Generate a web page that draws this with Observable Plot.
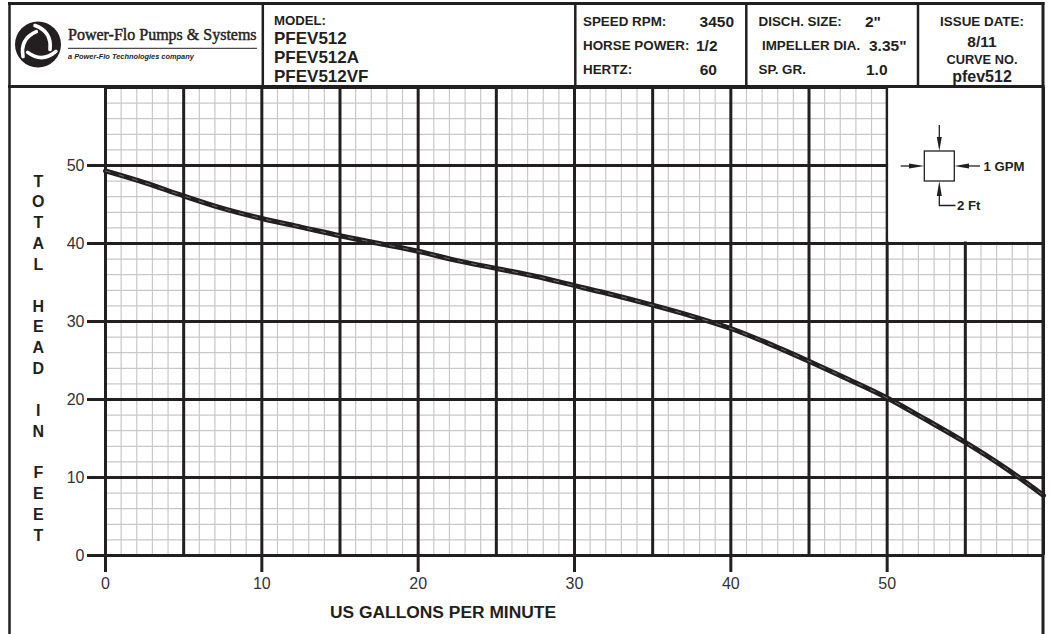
<!DOCTYPE html>
<html>
<head>
<meta charset="utf-8">
<script src="https://cdn.jsdelivr.net/npm/d3@7"></script>
<script src="https://cdn.jsdelivr.net/npm/@observablehq/plot@0.6"></script>
<style>
  body { margin: 0; background: #fff; }
  #page { position: relative; width: 1050px; height: 634px; overflow: hidden; }
</style>
</head>
<body>
<div id="page"></div>
<script>
// ---- data ----
const gpm  = [0, 2.5, 5, 7.5, 10, 12.5, 15, 17.5, 20, 22.5, 25, 27.5, 30, 32.5, 35, 37.5, 40, 42.5, 45, 47.5, 50, 52.5, 55, 57.5, 60];
const head = [49.3, 47.8, 46.1, 44.5, 43.2, 42.1, 41.0, 40.0, 39.0, 37.8, 36.8, 35.8, 34.6, 33.4, 32.1, 30.7, 29.1, 27.1, 24.9, 22.6, 20.2, 17.4, 14.5, 11.3, 7.7];
const xTicks = [0, 10, 20, 30, 40, 50];
const yTicks = [0, 10, 20, 30, 40, 50];
const xDomain = [0, 60];
const yDomain = [0, 60];
const xMinorStep = 1, yMinorStep = 2, xMajorStep = 5, yMajorStep = 10;
const legendBox = [{x1: 50, x2: 60, y1: 40, y2: 60}];
const xLabel = "US GALLONS PER MINUTE";
const yLabelLetters = ["T","O","T","A","L","","H","E","A","D","","I","N","","F","E","E","T"];
const modelLines = ["PFEV512", "PFEV512A", "PFEV512VF"];
const specLabels = ["SPEED RPM:", "HORSE POWER:", "HERTZ:"];
const specValues = ["3450", "1/2", "60"];
const dischLabels = ["DISCH. SIZE:", "IMPELLER DIA.", "SP. GR."];
const dischValues = ["2\"", "3.35\"", "1.0"];
const issueLines = ["ISSUE DATE:", "8/11", "CURVE NO.", "pfev512"];

const ink = "#231f20";
const curve = gpm.map((g, i) => ({gpm: g, head: head[i]}));
const xMinor = d3.range(xDomain[0], xDomain[1] + 0.001, xMinorStep);
const yMinor = d3.range(yDomain[0], yDomain[1] + 0.001, yMinorStep);
const xMajor = d3.range(xDomain[0], xDomain[1] + 0.001, xMajorStep);
const yMajor = d3.range(yDomain[0], yDomain[1] + 0.001, yMajorStep);

const chart = Plot.plot({
  width: 1050, height: 634,
  marginLeft: 105, marginRight: 7, marginTop: 87, marginBottom: 79,
  x: {domain: xDomain},
  y: {domain: yDomain},
  style: {fontFamily: "'Liberation Sans', Arial, sans-serif", fontSize: "16px", color: ink, background: "#fff"},
  marks: [
    Plot.ruleX(xMinor, {stroke: "#c8c8cc", strokeWidth: 1.2}),
    Plot.ruleY(yMinor, {stroke: "#c8c8cc", strokeWidth: 1.2}),
    Plot.ruleX(xMajor, {stroke: ink, strokeWidth: 3}),
    Plot.ruleY(yMajor, {stroke: ink, strokeWidth: 3}),
    Plot.rect(legendBox, {x1: "x1", x2: "x2", y1: "y1", y2: "y2", fill: "#fff", insetLeft: 1.5, insetBottom: 1.5}),
    Plot.axisX(xTicks, {tickSize: 17, tickPadding: 5, stroke: ink, strokeWidth: 3, fill: "#333", fontSize: 16, label: null}),
    Plot.axisY(yTicks, {tickSize: 18, tickPadding: 3, stroke: ink, strokeWidth: 3, fill: "#333", fontSize: 16, label: null}),
    Plot.line(curve, {x: "gpm", y: "head", stroke: ink, strokeWidth: 5, curve: "monotone-x"}),
    Plot.line(curve, {x: "gpm", y: "head", stroke: "#8a8a8a", strokeWidth: 0.7, strokeDasharray: "5 9", curve: "monotone-x"})
  ]
});
document.getElementById("page").appendChild(chart);

// ---- decorations: header block, frame, labels, legend glyph ----
const svg = d3.select(chart);
const g = svg.append("g").attr("class", "decor");
const sans = "'Liberation Sans', Arial, sans-serif";

function line(x1, y1, x2, y2, w) {
  g.append("line").attr("x1", x1).attr("y1", y1).attr("x2", x2).attr("y2", y2)
    .attr("stroke", ink).attr("stroke-width", w);
}
function text(str, x, y, size, opts = {}) {
  return g.append("text").attr("x", x).attr("y", y).text(str)
    .attr("font-family", opts.family || sans)
    .attr("font-size", size)
    .attr("font-weight", opts.weight || "bold")
    .attr("font-style", opts.style || "normal")
    .attr("text-anchor", opts.anchor || "start")
    .attr("fill", ink);
}

// header white background
g.append("rect").attr("x", 9).attr("y", 3).attr("width", 1034).attr("height", 84).attr("fill", "#fff");
// frame and header box lines
line(8, 3.5, 1044.5, 3.5, 3);
line(9.5, 2, 9.5, 634, 2.5);
line(1043, 2, 1043, 634, 3);
line(8, 86.5, 1044.5, 86.5, 3);
[262.8, 575.3, 746.3, 918].forEach(x => line(x, 2, x, 87, 2.5));

// logo
const logo = g.append("g").attr("transform", "translate(38,44.5)");
logo.append("circle").attr("r", 23).attr("fill", ink);
[0, 120, 240].forEach(a => {
  logo.append("path").attr("transform", `rotate(${a})`)
    .attr("d", "M -3 -19 Q 14 -13 12 5")
    .attr("fill", "none").attr("stroke", "#fff").attr("stroke-width", 3.6).attr("stroke-linecap", "round");
});
text("Power-Flo Pumps & Systems", 68, 39.5, 16, {family: "'Liberation Serif', 'Times New Roman', serif", weight: "normal"})
  .attr("stroke", ink).attr("stroke-width", 0.45);
line(68, 48.3, 257, 48.3, 1);
text("a Power-Flo Technologies company", 68, 59, 7.4, {style: "italic"});

// model box
text("MODEL:", 274, 24.5, 13.2);
modelLines.forEach((s, i) => text(s, 274, 43.5 + i * 19, 17));

// speed box
specLabels.forEach((s, i) => text(s, 583, 26 + i * 24, 13.4));
text(specValues[0], 734, 26.5, 15.5, {anchor: "end"});
text(specValues[1], 696, 50.5, 15.5);
text(specValues[2], 717, 74.5, 15.5, {anchor: "end"});

// discharge box
text(dischLabels[0], 758.5, 26, 13.4);
text(dischLabels[1], 762, 50, 13.4);
text(dischLabels[2], 758.5, 74, 13.4);
text(dischValues[0], 865, 26.5, 15.5);
text(dischValues[1], 869, 51, 15.5);
text(dischValues[2], 866, 75, 15.5);

// issue box
text(issueLines[0], 982, 26, 13.4, {anchor: "middle"});
text(issueLines[1], 982, 46.5, 15.5, {anchor: "middle"});
text(issueLines[2], 982, 64, 12.8, {anchor: "middle"});
text(issueLines[3], 982, 81.5, 16, {anchor: "middle"});

// y label (stacked letters)
yLabelLetters.forEach((c, i) => { if (c) text(c, 38.3, 186.5 + i * 20.85, 16, {anchor: "middle"}); });
// x label
text(xLabel, 443, 618, 17.4, {anchor: "middle"});

// legend glyph
const lg = g.append("g");
lg.append("rect").attr("x", 924.3).attr("y", 151).attr("width", 30).attr("height", 30)
  .attr("fill", "#fff").attr("stroke", ink).attr("stroke-width", 1.3);
function seg(x1, y1, x2, y2) {
  lg.append("line").attr("x1", x1).attr("y1", y1).attr("x2", x2).attr("y2", y2)
    .attr("stroke", ink).attr("stroke-width", 1.3);
}
function head3(pts) {
  lg.append("polygon").attr("points", pts.map(p => p.join(",")).join(" ")).attr("fill", ink);
}
seg(939.3, 125, 939.3, 140);  head3([[939.3, 151], [936.8, 137], [941.8, 137]]);
seg(900.7, 166, 912, 166);    head3([[924.3, 166], [909, 163.5], [909, 168.5]]);
seg(980, 166, 968, 166);      head3([[954.3, 166], [969, 163.5], [969, 168.5]]);
lg.append("polyline").attr("points", "955.5,205.5 939.3,205.5 939.3,193")
  .attr("fill", "none").attr("stroke", ink).attr("stroke-width", 1.3);
head3([[939.3, 181], [936.8, 196], [941.8, 196]]);
text("1 GPM", 983.5, 170.7, 13.2);
text("2 Ft", 957, 210.3, 13.2);
</script>
</body>
</html>
